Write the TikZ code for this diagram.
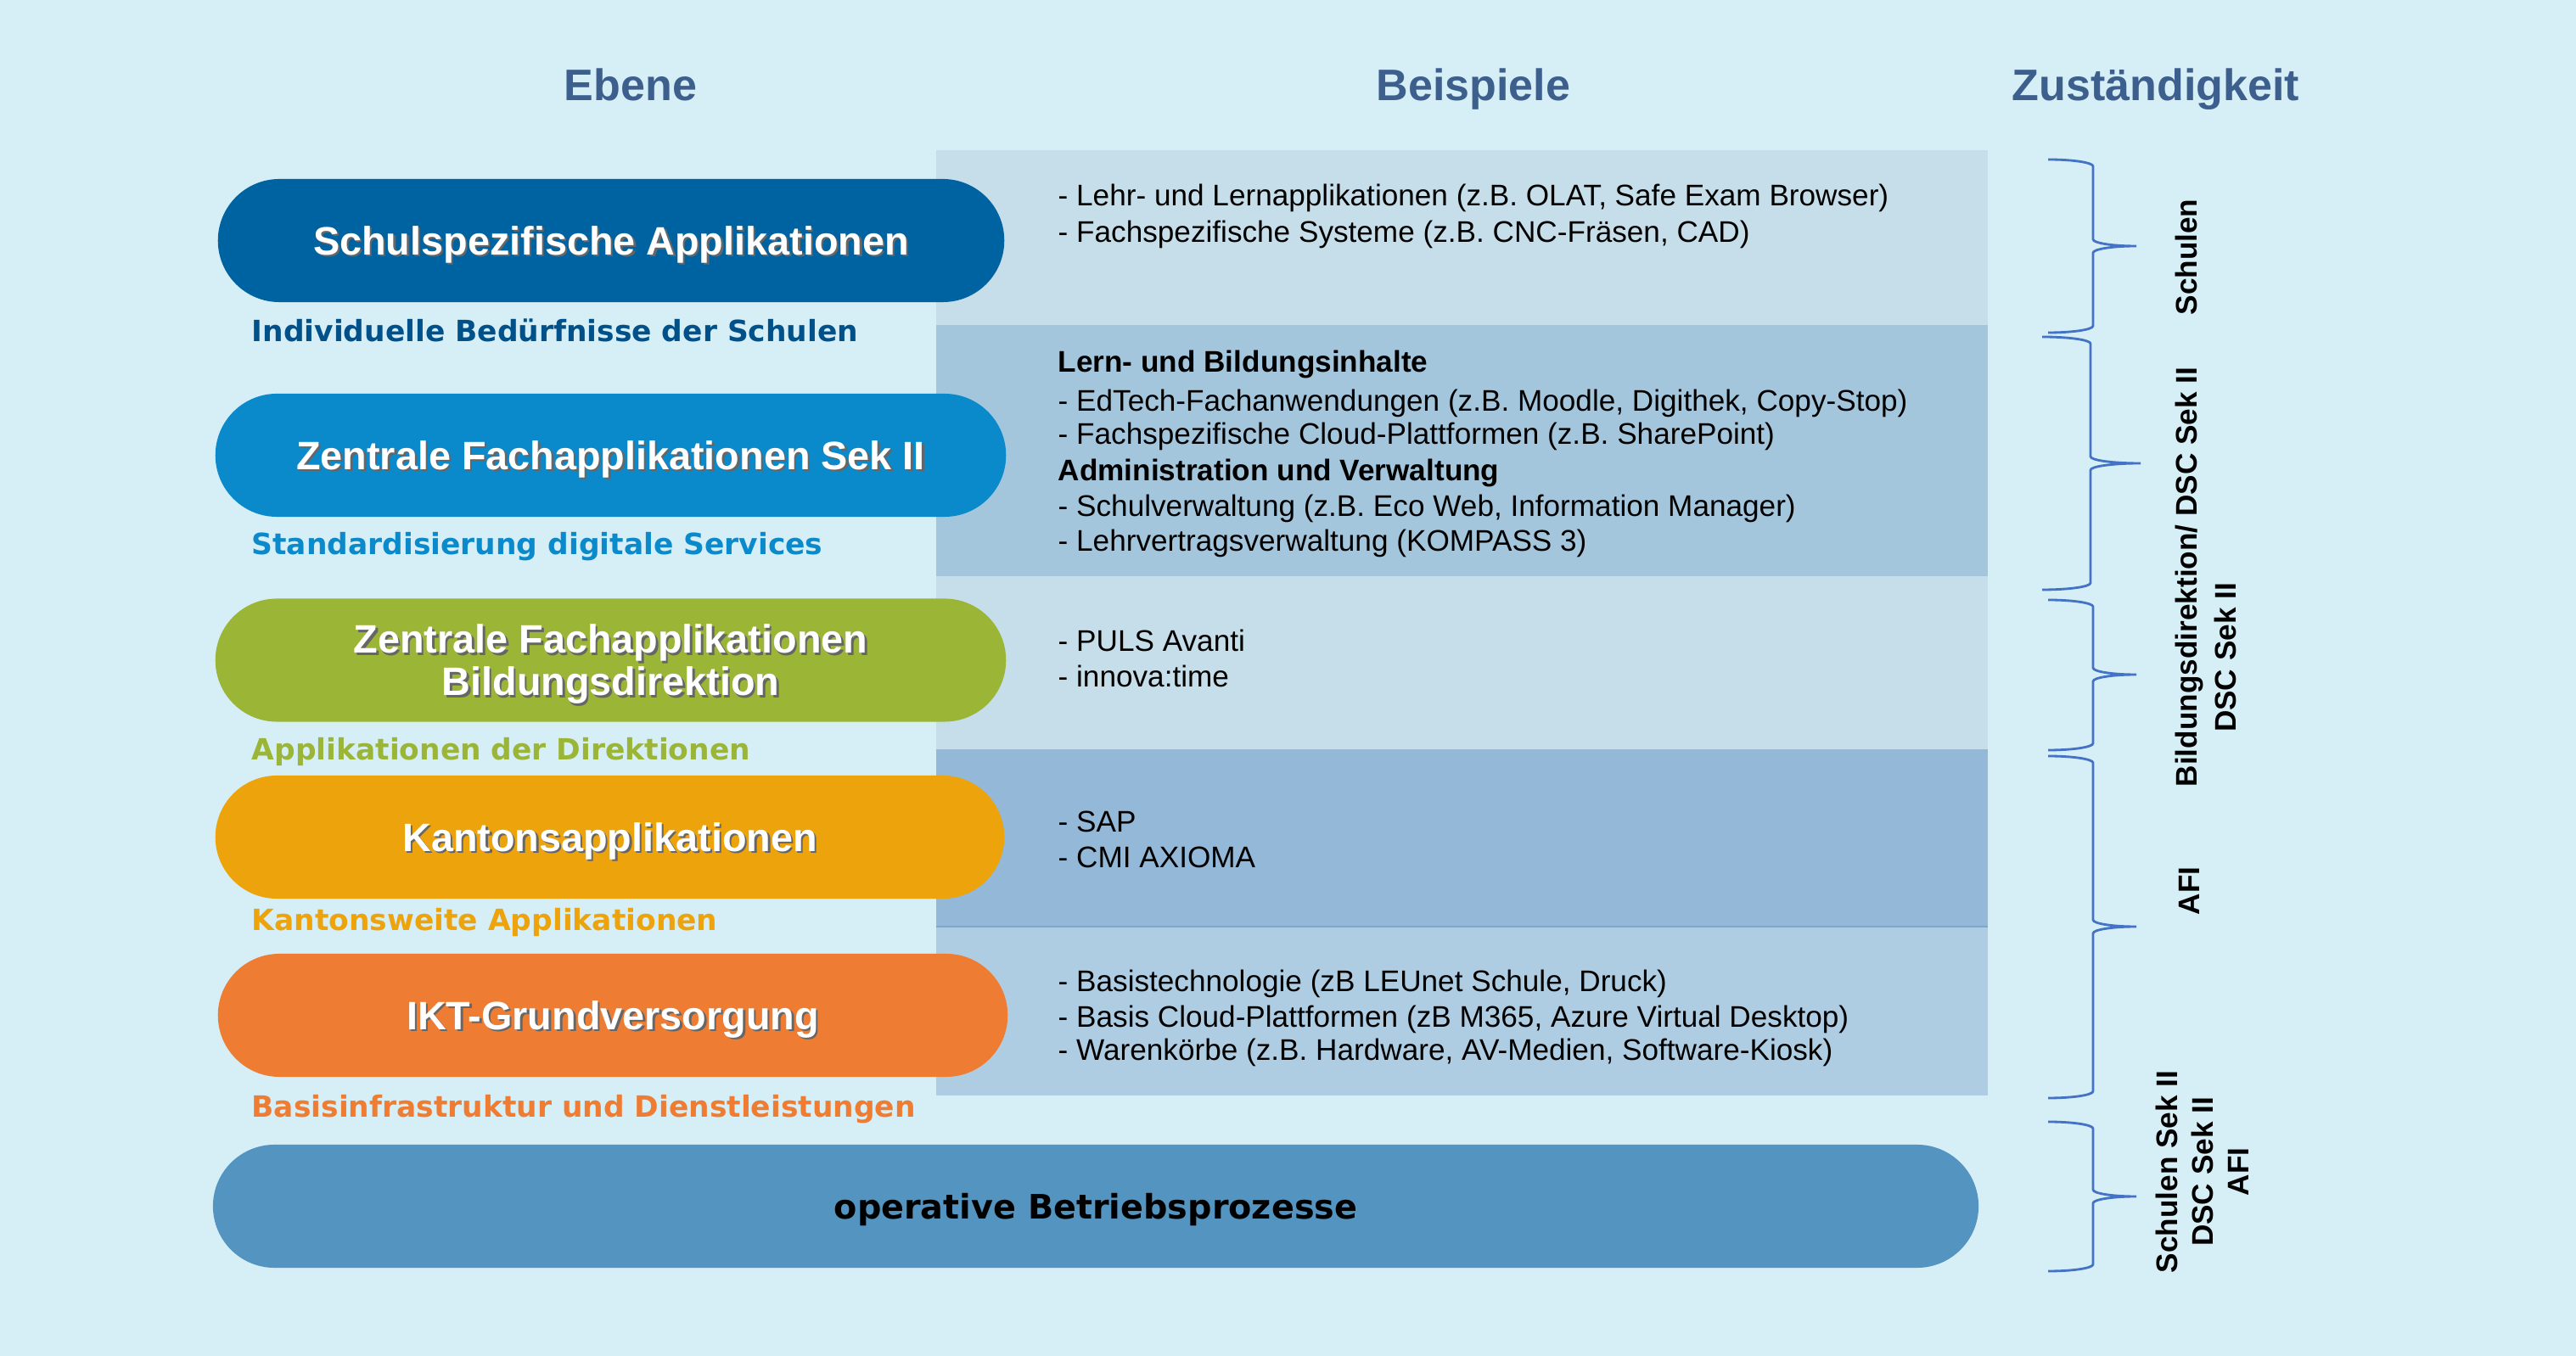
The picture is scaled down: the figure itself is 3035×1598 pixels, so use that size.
\documentclass[tikz,border=0pt]{standalone}
\usepackage{fontspec}
\setmainfont{Liberation Sans}
\newfontfamily\dvs{DejaVu Sans}
\usetikzlibrary{shapes.misc}
\definecolor{bg}{HTML}{D6EEF6}
\definecolor{rowA}{HTML}{C6DEEA}
\definecolor{rowB}{HTML}{A4C6DD}
\definecolor{rowC}{HTML}{93B8D8}
\definecolor{rowD}{HTML}{AECDE3}
\definecolor{rowline}{HTML}{7FA6CC}
\definecolor{cA}{HTML}{0063A1}
\definecolor{cB}{HTML}{0A89CB}
\definecolor{cC}{HTML}{9BB537}
\definecolor{cD}{HTML}{ECA30C}
\definecolor{cE}{HTML}{EE7D33}
\definecolor{cF}{HTML}{5394C1}
\definecolor{sA}{HTML}{00508A}
\definecolor{hdrc}{HTML}{3D5F8E}
\definecolor{bracec}{HTML}{4472C4}
\newcommand\shd[1]{\raisebox{-1.7pt}[\height][\depth]{\rlap{\kern0.7pt\raisebox{-0.7pt}{\color{black!60}#1}}#1}}
\newcommand\rbr[6]{%
  \draw[bracestyle] (#1,-#4) arc[start angle=90,end angle=0,x radius={#2-#1},y radius=8]
    -- (#2,{-#5+8}) arc[start angle=180,end angle=270,x radius={#3-#2},y radius=8]
    arc[start angle=90,end angle=180,x radius={#3-#2},y radius=8]
    -- (#2,{-#6+8}) arc[start angle=0,end angle=-90,x radius={#2-#1},y radius=8];}
\begin{document}
\begin{tikzpicture}[x=0.01cm,y=0.01cm,
  hdr/.style={anchor=base,text=hdrc,font=\bfseries\fontsize{14.8}{17}\selectfont,inner sep=0},
  pill/.style={rounded rectangle,minimum height=1.45cm,inner sep=0,text=white,align=center,
    font=\bfseries\fontsize{13.3}{14.2}\selectfont},
  sub/.style={anchor=base west,inner sep=0,font=\dvs\bfseries\fontsize{9.8}{12}\selectfont},
  ex/.style={anchor=base west,inner sep=0,font=\fontsize{10}{12}\selectfont},
  exb/.style={ex,font=\bfseries\fontsize{10}{12}\selectfont},
  lab/.style={rotate=90,inner sep=0,align=center,font=\bfseries\fontsize{10}{12}\selectfont},
  bracestyle/.style={draw=bracec,line width=0.8pt}]
\fill[bg] (0,0) rectangle (3035,-1598);
\useasboundingbox (0,0) rectangle (3035,-1598);
% headers
\node[hdr] (h1) at (743,-119) {Ebene};
\node[hdr] (h2) at (1736,-119) {Beispiele};
\node[hdr] (h3) at (2540,-119) {Zuständigkeit};
% example panel rows
\fill[rowA] (1103,-177) rectangle (2342,-383);
\fill[rowB] (1103,-383) rectangle (2342,-679);
\fill[rowA] (1103,-679) rectangle (2342,-883);
\fill[rowC] (1103,-883) rectangle (2342,-1092);
\fill[rowD] (1103,-1092) rectangle (2342,-1291);
\draw[rowline,line width=0.6pt] (1103,-1092) -- (2342,-1092);
% pills
\node[pill,fill=cA,minimum width=9.26cm] (p1) at (720,-283.5) {\shd{Schulspezifische Applikationen}};
\node[pill,fill=cB,minimum width=9.31cm] (p2) at (719.5,-536.5) {\shd{Zentrale Fachapplikationen Sek II}};
\node[pill,fill=cC,minimum width=9.31cm] (p3) at (719.5,-778) {\shd{Zentrale Fachapplikationen}\\\shd{Bildungsdirektion}};
\node[pill,fill=cD,minimum width=9.29cm] (p4) at (718.5,-986.5) {\shd{Kantonsapplikationen}};
\node[pill,fill=cE,minimum width=9.30cm] (p5) at (722,-1196.5) {\shd{IKT-Grundversorgung}};
\node[pill,fill=cF,minimum width=20.79cm,text=black,font=\dvs\bfseries\fontsize{11.3}{13}\selectfont] (p6) at (1291,-1421.5) {\raisebox{-1.2pt}[\height][\depth]{operative Betriebsprozesse}};
% subtitles
\node[sub,text=sA] (d1) at (296,-403) {Individuelle Bedürfnisse der Schulen};
\node[sub,text=cB] (d2) at (296,-654) {Standardisierung digitale Services};
\node[sub,text=cC] (d3) at (296,-896) {Applikationen der Direktionen};
\node[sub,text=cD] (d4) at (296,-1097) {Kantonsweite Applikationen};
\node[sub,text=cE] (d5) at (296,-1317) {Basisinfrastruktur und Dienstleistungen};
% examples
\node[ex] (e11) at (1246,-243) {- Lehr- und Lernapplikationen (z.B. OLAT, Safe Exam Browser)};
\node[ex] (e12) at (1246,-285.5) {- Fachspezifische Systeme (z.B. CNC-Fräsen, CAD)};
\node[exb] (e21) at (1246,-438.5) {Lern- und Bildungsinhalte};
\node[ex] (e22) at (1246,-484.5) {- EdTech-Fachanwendungen (z.B. Moodle, Digithek, Copy-Stop)};
\node[ex] (e23) at (1246,-523.5) {- Fachspezifische Cloud-Plattformen (z.B. SharePoint)};
\node[exb] (e24) at (1246,-566.5) {Administration und Verwaltung};
\node[ex] (e25) at (1246,-608.5) {- Schulverwaltung (z.B. Eco Web, Information Manager)};
\node[ex] (e26) at (1246,-649.5) {- Lehrvertragsverwaltung (KOMPASS 3)};
\node[ex] (e31) at (1246,-767.5) {- PULS Avanti};
\node[ex] (e32) at (1246,-809.5) {- innova:time};
\node[ex] (e41) at (1246,-980.5) {- SAP};
\node[ex] (e42) at (1246,-1023) {- CMI AXIOMA};
\node[ex] (e51) at (1246,-1169) {- Basistechnologie (zB LEUnet Schule, Druck)};
\node[ex] (e52) at (1246,-1210.5) {- Basis Cloud-Plattformen (zB M365, Azure Virtual Desktop)};
\node[ex] (e53) at (1246,-1249.5) {- Warenkörbe (z.B. Hardware, AV-Medien, Software-Kiosk)};
% braces
\rbr{2413}{2466}{2517}{188}{290}{392}
\rbr{2406}{2463}{2522}{397}{546}{695}
\rbr{2413}{2466}{2517}{707}{795}{884}
\rbr{2413}{2466}{2517}{891}{1092}{1294}
\rbr{2413}{2466}{2517}{1322}{1410}{1498}
% responsibility labels
\node[lab] (r1) at (2576,-303) {Schulen};
\node[lab] (r2) at (2579,-680) {Bildungsdirektion/ DSC Sek II};
\node[lab] (r2b) at (2622,-775) {DSC Sek II};
\node[lab] (r3) at (2579,-1050) {AFI};
\node[lab] (r4) at (2595,-1381) {Schulen Sek II\\DSC Sek II\\AFI};
\end{tikzpicture}
\end{document}
